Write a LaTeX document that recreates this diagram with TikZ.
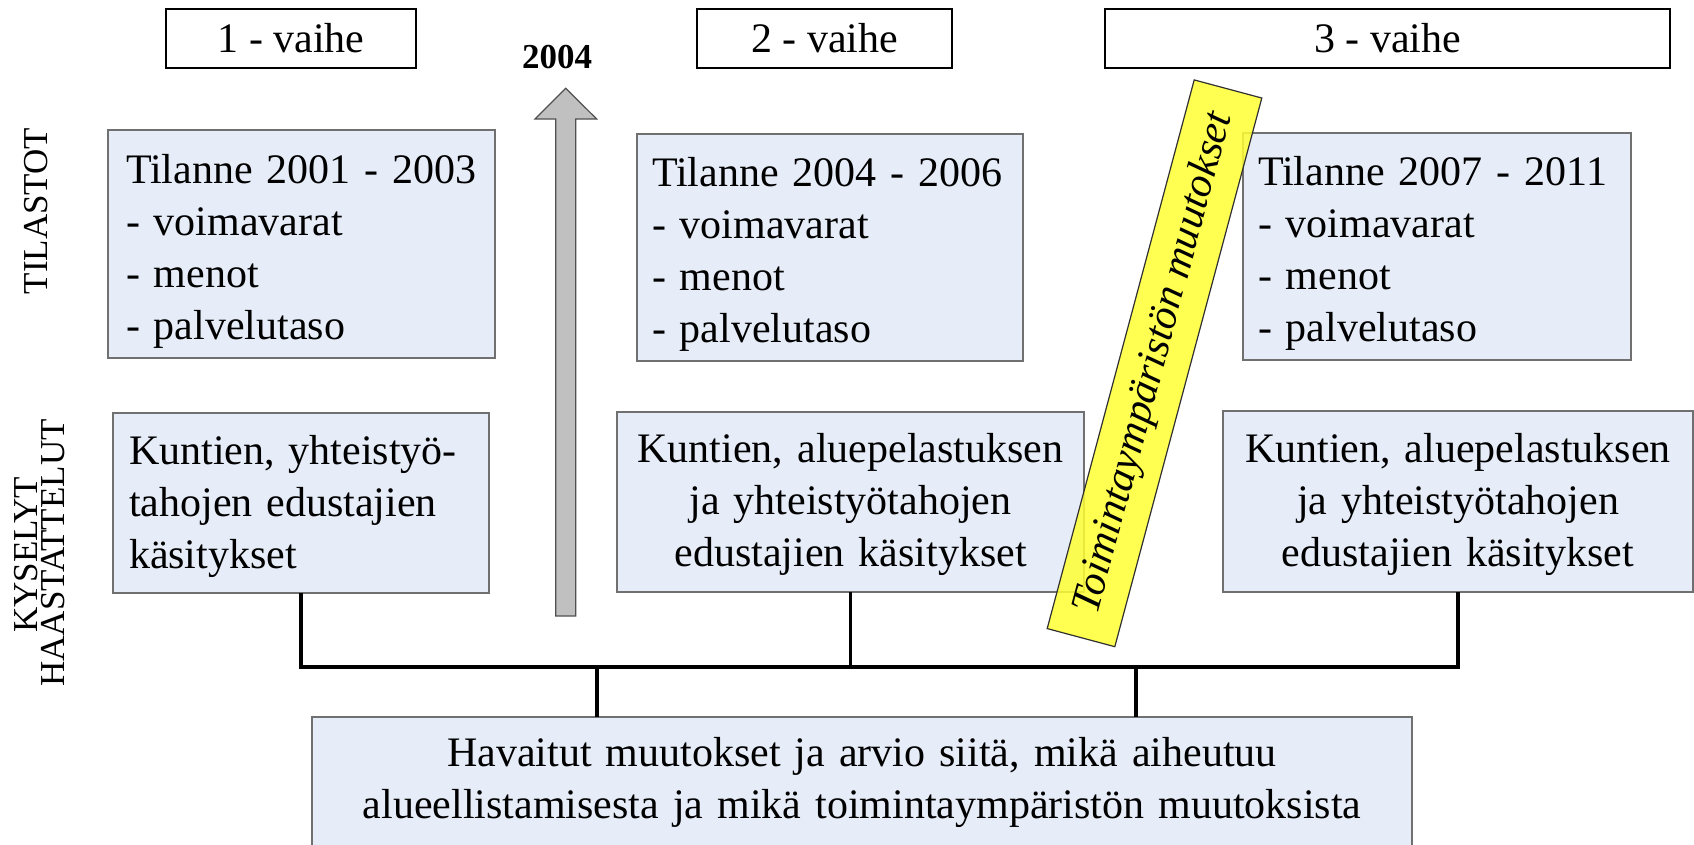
\documentclass[tikz,border=0pt]{standalone}
\usepackage{fontspec}
\setmainfont{Liberation Serif}
\definecolor{boxfill}{HTML}{E7EDF8}
\definecolor{boxline}{HTML}{707070}
\definecolor{arrowgray}{HTML}{C0C0C0}
\definecolor{arrowline}{HTML}{505050}
\definecolor{bandyellow}{HTML}{FFFF33}
\definecolor{bandline}{HTML}{303030}
\begin{document}
\begin{tikzpicture}[x=1pt,y=-1pt,
  bigtext/.style={font=\fontsize{42}{52}\selectfont},
  bluebox/.style={bigtext, rectangle, draw=boxline, line width=1.3pt, fill=boxfill,
                  inner sep=0pt, outer sep=0pt, anchor=north west},
  phasebox/.style={bigtext, rectangle, draw=black, line width=2.2pt, fill=white,
                   inner sep=0pt, outer sep=0pt, anchor=north west, minimum height=59pt},
  sidelabel/.style={rotate=90, inner sep=0pt, font=\fontsize{35}{42}\selectfont},
  conn/.style={draw=black, line width=3.4pt},
  band/.style={rectangle, draw=bandline, line width=1.2pt, fill=bandyellow,
               fill opacity=0.85, draw opacity=1, text opacity=1, inner sep=0pt,
               font=\itshape\fontsize{42}{52}\selectfont}
]
\useasboundingbox (0,0) rectangle (1694,844);
\clip (0,0) rectangle (1694,844);

% phase headers
\node[phasebox, minimum width=250pt] (v1) at (166,9) {1 - vaihe};
\node[phasebox, minimum width=255pt] (v2) at (697,9) {2 - vaihe};
\node[phasebox, minimum width=565pt] (v3) at (1105,9) {3 - vaihe};

% year label and arrow
\node[font=\bfseries\fontsize{35}{42}\selectfont, inner sep=0pt] (yr) at (557,57.5) {2004};
\draw[draw=arrowline, line width=1.2pt, fill=arrowgray]
  (555.7,616) -- (555.7,119) -- (535,119) -- (565.7,88.3) -- (596.7,119)
  -- (575.7,119) -- (575.7,616) -- cycle;

% side labels
\node[sidelabel] (tl) at (36,211) {TILASTOT};
\node[sidelabel] (ky1) at (26,555) {KYSELYT};
\node[sidelabel] (ky2) at (53,553) {HAASTATTELUT};

% statistics boxes
\node[bluebox, minimum width=387pt, minimum height=228pt, text width=351pt, align=left]
  (t1) at (108,130) {\rule{0pt}{43pt}Tilanne 2001 - 2003\\- voimavarat\\- menot\\- palvelutaso};
\node[bluebox, minimum width=386pt, minimum height=227pt, text width=356pt, align=left]
  (t2) at (637,134) {\rule{0pt}{43pt}Tilanne 2004 - 2006\\- voimavarat\\- menot\\- palvelutaso};
\node[bluebox, minimum width=388pt, minimum height=227pt, text width=358pt, align=left]
  (t3) at (1243,133) {\rule{0pt}{43pt}Tilanne 2007 - 2011\\- voimavarat\\- menot\\- palvelutaso};

% survey boxes
\node[bluebox, minimum width=376pt, minimum height=180pt, text width=344pt, align=left]
  (k1) at (113,413) {\rule{0pt}{37pt}Kuntien, yhteistyö-\\tahojen edustajien\\käsitykset};
\node[bluebox, minimum width=467pt, minimum height=180pt, text width=447pt, align=center]
  (k2) at (617,412) {\rule{0pt}{35pt}Kuntien, aluepelastuksen\\ja yhteistyötahojen\\edustajien käsitykset};
\node[bluebox, minimum width=470pt, minimum height=181pt, text width=450pt, align=center]
  (k3) at (1223,411) {\rule{0pt}{35pt}Kuntien, aluepelastuksen\\ja yhteistyötahojen\\edustajien käsitykset};

% result box
\node[bluebox, minimum width=1100pt, minimum height=130pt, text width=1080pt, align=center]
  (hav) at (312,717) {Havaitut muutokset ja arvio siitä, mikä aiheutuu\\alueellistamisesta ja mikä toimintaympäristön muutoksista};

% connectors
\coordinate (busY) at (0,667);
\coordinate (drop1) at (597,667);
\coordinate (drop2) at (1136,667);
\draw[conn] (k1.south) |- (k3.south |- busY) -- (k3.south);
\draw[conn] (k2.south) -- (k2.south |- busY);
\draw[conn] (drop1) -- (drop1 |- hav.north);
\draw[conn] (drop2) -- (drop2 |- hav.north);

% yellow band
\node[band, rotate=75, minimum width=568pt, minimum height=70pt] (bnd) at (1154.5,363.3)
  {Toimintaympäristön muutokset};
\end{tikzpicture}
\end{document}
